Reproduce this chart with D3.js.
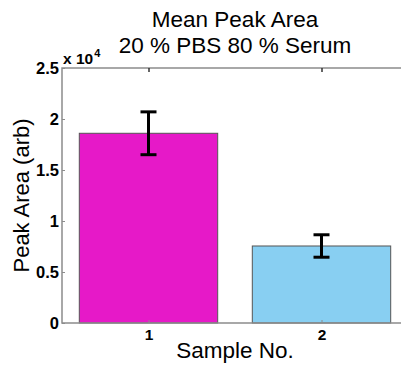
<!DOCTYPE html>
<html>
<head>
<meta charset="utf-8">
<script src="https://cdn.jsdelivr.net/npm/d3@7"></script>
<style>
  html, body { margin: 0; padding: 0; background: #fff; }
  svg { display: block; font-family: "Liberation Sans", Arial, sans-serif; }
</style>
</head>
<body>
<svg id="chart" width="401" height="367"></svg>
<script>
// Sample categories and their mean peak areas with error (std) values
const samples = [1, 2];
const meanArea = [18600, 7550];
const errArea = [2100, 1100];
const barColors = ["#e619c8", "#88cff2"];
const yTicks = [0, 5000, 10000, 15000, 20000, 25000];
const yTickLabels = ["0", "0.5", "1", "1.5", "2", "2.5"];

const svg = d3.select("#chart");
const plotL = 62, plotR = 408, plotT = 68, plotB = 323;

const x = d3.scaleLinear().domain([0.5, 2.5]).range([plotL, plotR]);
const y = d3.scaleLinear().domain([0, 25000]).range([plotB, plotT]);
const barW = 0.8;

const axisColor = "#8c8c8c";

// Bars
svg.append("g").selectAll("rect")
  .data(samples)
  .join("rect")
  .attr("x", (d) => x(d - barW / 2))
  .attr("width", (d) => x(d + barW / 2) - x(d - barW / 2))
  .attr("y", (d, i) => y(meanArea[i]))
  .attr("height", (d, i) => y(0) - y(meanArea[i]))
  .attr("fill", (d, i) => barColors[i])
  .attr("stroke", "#555")
  .attr("stroke-width", 1);

// Box around the axes
svg.append("path")
  .attr("d", `M${plotR},${plotT}H${plotL}V${plotB}H${plotR}`)
  .attr("fill", "none")
  .attr("stroke", axisColor)
  .attr("stroke-width", 1.5);

// Left axis (ticks pointing inward)
const yAxis = d3.axisLeft(y)
  .tickValues(yTicks)
  .tickFormat((d, i) => yTickLabels[i])
  .tickSizeInner(-3)
  .tickSizeOuter(0)
  .tickPadding(3);
const gy = svg.append("g").attr("transform", `translate(${plotL},0)`).call(yAxis);
gy.select(".domain").remove();
gy.selectAll(".tick line").attr("stroke", axisColor);
gy.selectAll(".tick text")
  .attr("fill", "#000")
  .attr("font-size", 16.5)
  .attr("font-weight", "bold")
  .attr("font-family", "Liberation Sans, Arial, sans-serif");

// Bottom axis labels
const xAxis = d3.axisBottom(x)
  .tickValues(samples)
  .tickFormat(d3.format("d"))
  .tickSizeInner(-3)
  .tickSizeOuter(0)
  .tickPadding(6);
const gx = svg.append("g").attr("transform", `translate(0,${plotB})`).call(xAxis);
gx.select(".domain").remove();
gx.selectAll(".tick line").attr("stroke", axisColor);
gx.selectAll(".tick text")
  .attr("fill", "#000")
  .attr("font-size", 15.5)
  .attr("font-weight", "bold")
  .attr("font-family", "Liberation Sans, Arial, sans-serif");

// Top axis ticks (mirrored)
const gt = svg.append("g").attr("transform", `translate(0,${plotT})`)
  .call(d3.axisTop(x).tickValues(samples).tickFormat("").tickSizeInner(-4).tickSizeOuter(0));
gt.select(".domain").remove();
gt.selectAll(".tick line").attr("stroke", "#333").attr("stroke-width", 1.5);

// Error bars
const eb = svg.append("g").attr("stroke", "#000").attr("stroke-width", 3);
const capHalf = 8;
samples.forEach((d, i) => {
  const cx = x(d);
  const yHi = y(meanArea[i] + errArea[i]);
  const yLo = y(meanArea[i] - errArea[i]);
  eb.append("line").attr("x1", cx).attr("x2", cx).attr("y1", yHi).attr("y2", yLo);
  eb.append("line").attr("x1", cx - capHalf).attr("x2", cx + capHalf).attr("y1", yHi).attr("y2", yHi);
  eb.append("line").attr("x1", cx - capHalf).attr("x2", cx + capHalf).attr("y1", yLo).attr("y2", yLo);
});

// Exponent label
const expo = svg.append("text")
  .attr("x", 63).attr("y", 64)
  .attr("font-size", 15.5)
  .attr("font-weight", "bold")
  .attr("fill", "#000");
expo.append("tspan").text("x 10");
expo.append("tspan").attr("font-size", 11).attr("dy", -7).attr("dx", 1).text("4");

// Title
const cx0 = (plotL + plotR) / 2;
svg.append("text").attr("x", cx0).attr("y", 27)
  .attr("text-anchor", "middle").attr("font-size", 22.5).attr("fill", "#000")
  .text("Mean Peak Area");
svg.append("text").attr("x", cx0).attr("y", 53)
  .attr("text-anchor", "middle").attr("font-size", 22.5).attr("fill", "#000")
  .text("20 % PBS 80 % Serum");

// Axis titles
svg.append("text").attr("x", cx0).attr("y", 358)
  .attr("text-anchor", "middle").attr("font-size", 22.5).attr("fill", "#000")
  .text("Sample No.");
svg.append("text")
  .attr("transform", `translate(29,${(plotT + plotB) / 2}) rotate(-90)`)
  .attr("text-anchor", "middle").attr("font-size", 22).attr("fill", "#000")
  .text("Peak Area (arb)");
</script>
</body>
</html>
